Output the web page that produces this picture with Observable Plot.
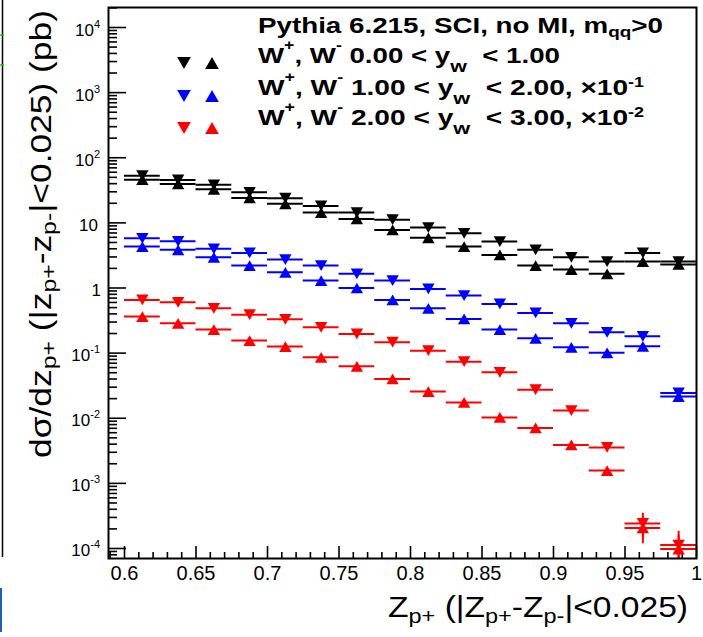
<!DOCTYPE html>
<html><head><meta charset="utf-8">
<script src="https://cdn.jsdelivr.net/npm/d3@7"></script>
<script src="https://cdn.jsdelivr.net/npm/@observablehq/plot@0.6"></script>
<style>
html,body{margin:0;padding:0;background:#fff;}
#chart{position:relative;width:703px;height:637px;overflow:hidden;}
svg text{font-family:"Liberation Sans",Arial,Helvetica,sans-serif;white-space:pre;}
</style></head><body><div id="chart"></div>
<script>
// ---- data (bin centres in z_p+, cross sections in pb before display scaling) ----
const zCenters = [0.6125,0.6375,0.6625,0.6875,0.7125,0.7375,0.7625,0.7875,0.8125,0.8375,0.8625,0.8875,0.9125,0.9375,0.9625,0.9875];
const binHalfWidth = 0.0125;
const rapidityLow = ["0.00","1.00","2.00"];
const rapidityHigh = ["1.00","2.00","3.00"];
const displayFactor = [1, 0.1, 0.01];
const factorLabel = ["", "-1", "-2"];
const seriesColor = ["#000000", "#0000ff", "#ff0000"];
// W+ (down triangles) and W- (up triangles)
const wPlusY01 = [53, 45.7, 38.4, 29.5, 23.9, 18.2, 14.4, 11.2, 8.47, 6.92, 5.17, 3.85, 2.96, 2.55, 3.46, 2.55];
const wMinusY01 = [46, 39.7, 32.8, 24.2, 19.6, 14.4, 11.5, 7.8, 5.89, 4.33, 3.22, 2.21, 1.92, 1.65, 2.55, 2.3];
const wPlusY12 = [57.9, 52.1, 39.9, 34.6, 27.3, 22.1, 16.5, 13.0, 9.68, 7.64, 5.70, 4.14, 2.87, 2.09, 1.81, 0.245];
const wMinusY12 = [43.3, 38.5, 29.6, 22.1, 17.4, 13.0, 10.0, 6.56, 4.88, 3.35, 2.30, 1.69, 1.23, 1.01, 1.27, 0.215];
const wPlusY23 = [65.6, 60.3, 48.8, 39.0, 33.0, 24.9, 19.7, 14.7, 10.9, 7.40, 5.07, 2.75, 1.31, 0.357, 0.0243, 0.0113];
const wMinusY23 = [36.4, 28.7, 23.0, 15.6, 12.6, 8.61, 6.27, 4.02, 2.57, 1.75, 1.03, 0.71, 0.389, 0.157, 0.0207, 0.0098];
// relative statistical errors (only visible where large)
const relErrY01 = [0,0,0,0,0,0,0,0,0,0,0,0,0,0,0,0];
const relErrY12 = [0,0,0,0,0,0,0,0,0,0,0,0,0,0,0,0];
const relErrY23 = [0,0,0,0,0,0,0,0,0,0,0,0,0,0,0.43,0.62];
// axis ticks
const xMajorTicks = [0.6,0.65,0.7,0.75,0.8,0.85,0.9,0.95,1];
const yMajorTicks = [1e-4,1e-3,1e-2,1e-1,1,10,100,1000,10000];

const wPlusAll = [wPlusY01, wPlusY12, wPlusY23];
const wMinusAll = [wMinusY01, wMinusY12, wMinusY23];
const errAll = [relErrY01, relErrY12, relErrY23];

const rows = [];
for (let s = 0; s < 3; s++) {
  zCenters.forEach((z, i) => {
    for (const [charge, arr] of [["+", wPlusAll[s]], ["-", wMinusAll[s]]]) {
      rows.push({z, v: arr[i] * displayFactor[s], charge, series: s, color: seriesColor[s], err: errAll[s][i]});
    }
  });
}

const xMinorTicks = d3.range(59, 101).map(k => k / 100).filter(v => !xMajorTicks.some(m => Math.abs(m - v) < 1e-9));
const yMinorTicks = [];
for (let e = -5; e <= 4; e++) for (let k = 2; k <= 9; k++) yMinorTicks.push(k * Math.pow(10, e));

function tri(up) {
  return {draw(ctx, size) {
    const s = Math.sqrt(4 * size / Math.sqrt(3));
    const h = s * Math.sqrt(3) / 2;
    const t = up ? -h / 2 : h / 2;
    ctx.moveTo(0, t); ctx.lineTo(-s / 2, -t); ctx.lineTo(s / 2, -t); ctx.closePath();
  }};
}
const triUp = tri(true), triDown = tri(false);

const W = 703, H = 637, mL = 108, mR = 7, mT = 7, mB = 79;
const plotW = W - mL - mR, plotH = H - mT - mB;
const yDomain = [7.02e-5, 20283];

const chart = Plot.plot({
  width: W, height: H,
  marginLeft: mL, marginRight: mR, marginTop: mT, marginBottom: mB,
  style: {background: "white", fontFamily: "Liberation Sans, Arial, sans-serif", color: "black"},
  x: {domain: [0.58881, 1.0], label: null},
  y: {type: "log", domain: yDomain, axis: null},
  marks: [
    Plot.tickY(yMajorTicks, {y: d => d, insetRight: plotW - 18, stroke: "black", strokeWidth: 1.6}),
    Plot.tickY(yMinorTicks.filter(v => v > yDomain[0] && v < yDomain[1]), {y: d => d, insetRight: plotW - 9, stroke: "black", strokeWidth: 1.6}),
    Plot.tickX(xMajorTicks, {x: d => d, insetTop: plotH - 12, stroke: "black", strokeWidth: 1.6}),
    Plot.tickX(xMinorTicks, {x: d => d, insetTop: plotH - 6, stroke: "black", strokeWidth: 1.6}),
    Plot.axisX(xMajorTicks, {tickSize: 0, tickPadding: 7, fontSize: 20, label: null, tickFormat: d => String(d), fill: "black"}),
    Plot.ruleY(rows, {y: "v", x1: d => d.z - binHalfWidth, x2: d => d.z + binHalfWidth, stroke: "color", strokeWidth: 2, clip: true}),
    Plot.ruleX(rows.filter(d => d.err > 0), {x: "z", y1: d => d.v * (1 - d.err), y2: d => d.v * (1 + d.err), stroke: "color", strokeWidth: 2, clip: true}),
    Plot.dot(rows.filter(d => d.charge === "+"), {x: "z", y: "v", symbol: triDown, r: 4.6, fill: "color", stroke: null, clip: true}),
    Plot.dot(rows.filter(d => d.charge === "-"), {x: "z", y: "v", symbol: triUp, r: 4.6, fill: "color", stroke: null, clip: true}),
    Plot.frame({stroke: "black", strokeWidth: 2})
  ]
});
document.getElementById("chart").appendChild(chart);

const svg = d3.select(chart);
const yScale = chart.scale("y");

function richText(g, x, y, parts, opts) {
  const t = g.append("text").attr("x", x).attr("y", y)
    .attr("font-size", opts.size).attr("font-weight", opts.weight || 400)
    .attr("text-anchor", opts.anchor || "start").attr("fill", "black");
  if (opts.transform) t.attr("transform", opts.transform);
  let cur = 0;
  for (const p of parts) {
    const target = p.shift || 0;
    const ts = t.append("tspan").attr("dy", target - cur).text(p.t);
    if (p.size) ts.attr("font-size", p.size);
    cur = target;
  }
  if (opts.length) t.attr("textLength", opts.length).attr("lengthAdjust", "spacingAndGlyphs");
  return t;
}

// y tick labels
const gl = svg.append("g");
yMajorTicks.forEach(v => {
  const e = Math.round(Math.log10(v));
  const yy = yScale.apply(v) + 8.5;
  if (e === 0) richText(gl, 101, yy, [{t: "1"}], {size: 17, anchor: "end"});
  else if (e === 1) richText(gl, 98, yy, [{t: "10"}], {size: 17, anchor: "end"});
  else richText(gl, 100, yy, [{t: "10"}, {t: String(e), size: 11, shift: -8}], {size: 17, anchor: "end"});
});

// axis titles
richText(svg, 0, 0, [
  {t: "dσ/dz"}, {t: "p+", size: 21, shift: 5}, {t: " (|z"}, {t: "p+", size: 21, shift: 5},
  {t: "-z"}, {t: "p-", size: 21, shift: 5}, {t: "|<0.025) (pb)"}
], {size: 30, transform: "translate(51,458) rotate(-90)", length: 448});

richText(svg, 0, 0, [
  {t: "Z"}, {t: "p+", size: 21, shift: 6}, {t: " (|Z"}, {t: "p+", size: 21, shift: 6},
  {t: "-Z"}, {t: "p-", size: 21, shift: 6}, {t: "|<0.025)"}
], {size: 30, transform: "translate(388,617)", length: 300});

// legend
const legendY = [63, 96, 128];
const legendBase = [63, 95, 125];
richText(svg, 258, 33, [{t: "Pythia 6.215, SCI, no MI, m"}, {t: "qq", size: 15, shift: 4}, {t: ">0"}], {size: 22, weight: 700, length: 405});
for (let s = 0; s < 3; s++) {
  const parts = [
    {t: "W"}, {t: "+", size: 14, shift: -13}, {t: ", W"}, {t: "-", size: 14, shift: -13},
    {t: " " + rapidityLow[s] + " < y"}, {t: "w", size: 17, shift: 9}, {t: "  < " + rapidityHigh[s] + (s > 0 ? ", " : "")}
  ];
  if (s > 0) parts.push({t: "×10"}, {t: factorLabel[s], size: 14, shift: -8});
  richText(svg, 258, legendBase[s], parts, {size: 22, weight: 700, length: s === 0 ? 302 : 386});
  const sym = d3.symbol().size(Math.PI * 26);
  svg.append("path").attr("d", sym.type(triDown)()).attr("transform", `translate(184,${legendY[s]})`).attr("fill", seriesColor[s]);
  svg.append("path").attr("d", sym.type(triUp)()).attr("transform", `translate(212,${legendY[s]})`).attr("fill", seriesColor[s]);
}

// neighbouring-panel remnants at the left edge of the picture
svg.append("line").attr("x1", 2.5).attr("x2", 2.5).attr("y1", 0).attr("y2", 557).attr("stroke", "black").attr("stroke-width", 1.5);
svg.append("line").attr("x1", 0).attr("x2", 4).attr("y1", 35).attr("y2", 35).attr("stroke", "#20c020").attr("stroke-width", 1.5);
svg.append("line").attr("x1", 0).attr("x2", 4).attr("y1", 65).attr("y2", 65).attr("stroke", "#20c020").attr("stroke-width", 1.5);
svg.append("line").attr("x1", 1).attr("x2", 1).attr("y1", 588).attr("y2", 632).attr("stroke", "#1f5fbf").attr("stroke-width", 2);
</script></body></html>
